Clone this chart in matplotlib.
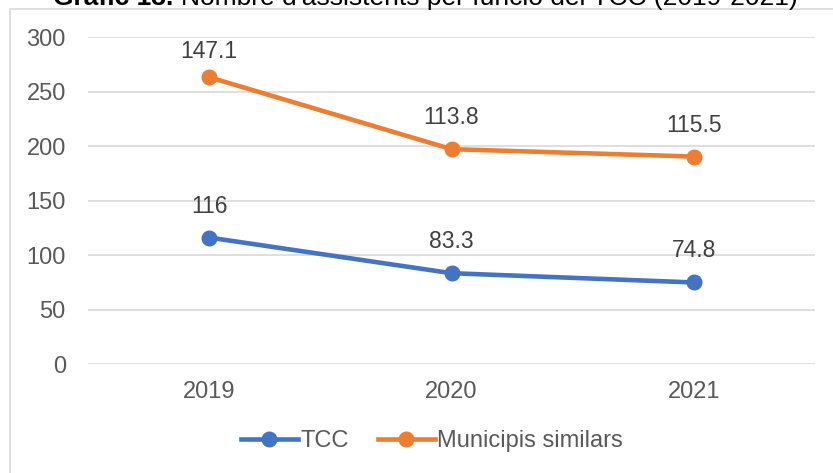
import numpy as np
import matplotlib.pyplot as plt
from matplotlib.patches import Rectangle

plt.rcParams['font.family'] = ['Liberation Sans', 'DejaVu Sans']

years = ['2019', '2020', '2021']
tcc = [116, 83.3, 74.8]
municipis = [147.1, 113.8, 115.5]
yticks = [0, 50, 100, 150, 200, 250, 300]

blue = '#4472C4'
orange = '#ED7D31'
grey_txt = '#595959'
W, H = 833, 473

fig = plt.figure(figsize=(W / 100, H / 100), dpi=100)
ax = fig.add_axes([88 / W, 1 - 364 / H, (815 - 88) / W, (364 - 37) / H])

# outer chart border (partly cut off in the original)
fig.patches.append(Rectangle((10 / W, -0.1), 1.0, 1 - 9 / H + 0.1, transform=fig.transFigure,
                             fill=False, edgecolor='#D9D9D9', linewidth=1.2))

x = np.arange(len(years))
stacked = np.array(tcc) + np.array(municipis)  # stacked line, as in the source chart

ax.plot(x, tcc, color=blue, lw=3.3, marker='o', ms=10.5, label='TCC', zorder=3)
ax.plot(x, stacked, color=orange, lw=3.3, marker='o', ms=10.5, label='Municipis similars', zorder=3)

ax.set_xlim(-0.5, 2.5)
ax.set_ylim(0, 300)


def add_labels(xs, ys, vals):
    # labels sit above the point, but are kept inside the plot area (like Excel)
    top_px = ax.transAxes.transform((0, 1))[1]
    for xi, yi, v in zip(xs, ys, vals):
        py = ax.transData.transform((xi, yi))[1]
        off = min(31.5, top_px - 14 - py) * 72 / fig.dpi
        ax.annotate(f'{v:g}', (xi, yi), xytext=(0, off), textcoords='offset points',
                    ha='center', va='center', fontsize=16.5, color='#404040')


add_labels(x, tcc, tcc)
add_labels(x, stacked, municipis)

ax.set_xticks(x)
ax.set_xticklabels(years)
ax.set_yticks(yticks)
ax.tick_params(axis='both', length=0, labelsize=17, labelcolor=grey_txt)
ax.tick_params(axis='x', pad=12)
ax.tick_params(axis='y', pad=16)
ax.grid(axis='y', color='#D9D9D9', lw=1.2)
ax.set_axisbelow(True)
for s in ax.spines.values():
    s.set_visible(False)

leg = fig.legend(loc='center', bbox_to_anchor=(432 / W, 1 - 441 / H), ncol=2, frameon=False,
                 fontsize=17, handlelength=2.4, columnspacing=1.25, handletextpad=0.1)
for t in leg.get_texts():
    t.set_color(grey_txt)

# title, cut off at the top edge in the original
t1 = fig.text(53 / W, 1 - 5 / H, 'Gràfic 13. ', fontsize=19, fontweight='bold', va='baseline', ha='left')
fig.canvas.draw()
bb = t1.get_window_extent()
fig.text(bb.x1 / W, 1 - 5 / H, "Nombre d'assistents per funció del TCC (2019-2021)", fontsize=19,
         va='baseline', ha='left')

fig.savefig('out.png', dpi=100)
